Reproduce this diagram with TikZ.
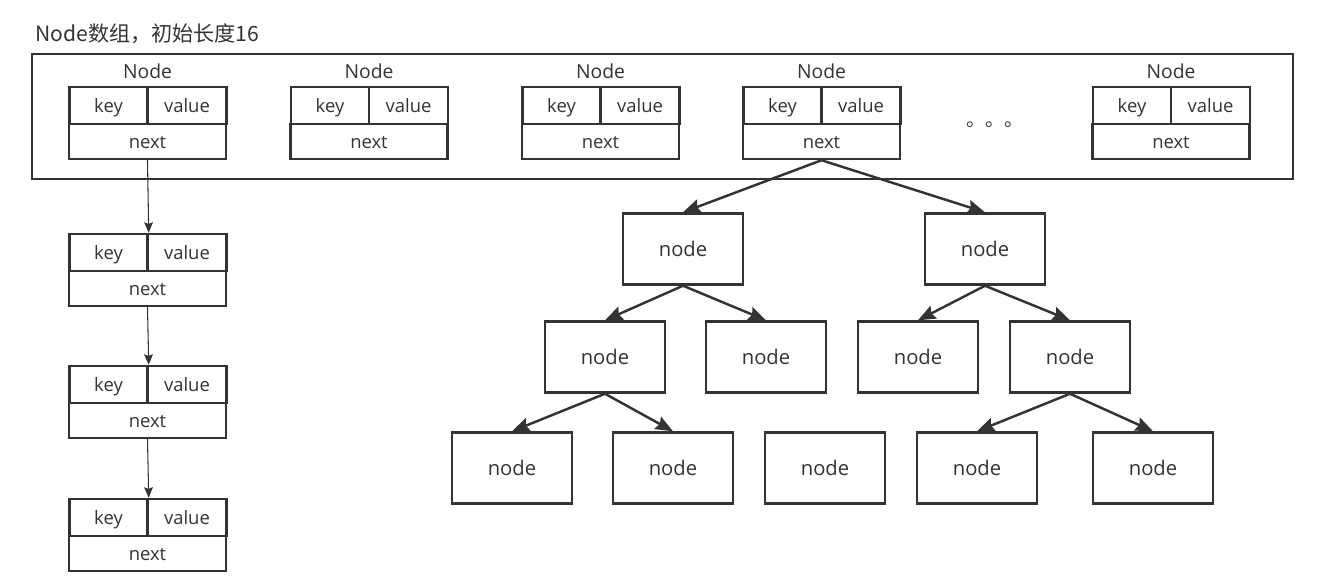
\documentclass[tikz,border=0pt]{standalone}
\usepackage{fontspec}
\setmainfont{Open Sans}
\newfontfamily\cjk{Noto Sans CJK SC}
\usepackage{xcolor}
\usepackage{tikz}
\usetikzlibrary{arrows.meta,positioning}
\definecolor{ink}{HTML}{333333}
\tikzset{%
	cell/.style    = {draw=ink, line width=1.4pt, inner sep=0pt, text=ink, font=\fontsize{10.5}{12}\selectfont, text height=1.6ex, text depth=0.1ex, minimum height=0.74cm},
	kcell/.style   = {cell, minimum width=1.56cm},
	vcell/.style   = {cell, minimum width=1.58cm},
	ncell/.style   = {cell, minimum width=3.14cm, minimum height=0.70cm},
	tnode/.style   = {draw=ink, line width=1.4pt, text=ink, font=\fontsize{11.5}{13}\selectfont, text height=1.6ex, text depth=0.1ex, minimum width=2.4cm, minimum height=1.42cm},
	link/.style    = {draw=ink, line width=0.6pt, -{Stealth[length=6pt,width=5pt,inset=1pt]}},
	tarrow/.style  = {draw=ink, line width=1.4pt, -{Stealth[length=10pt,width=8pt,inset=1.5pt]}},
}
% one array entry: name, centre x, top y
\newcommand{\kvnode}[3]{%
	\node[kcell] (#1k) at (#2-39,#3+18.5) {key};
	\node[vcell] (#1v) at (#2+39.5,#3+18.5) {value};
	\node[ncell] (#1n) at (#2,#3+54.5) {next};
}

\begin{document}
\begin{tikzpicture}[x=0.02cm,y=-0.02cm]
	\useasboundingbox (0,0) rectangle (1326,579);
	\node[anchor=west, text=ink, font=\cjk\fontsize{12}{14}\selectfont, inner sep=0pt] (title) at (35,34) {Node数组，初始长度16};
	\draw[ink, line width=1.5pt] (32,54) rectangle (1293,179);
	
	\foreach \nm/\cx in {e1/147.5,e2/369,e3/600.5,e4/821.5,e5/1171} {
		\kvnode{\nm}{\cx}{87}
		\node[text=ink, font=\fontsize{11}{13}\selectfont] (\nm l) at (\cx,71) {Node};
	}
	\node[text=ink, font=\cjk\fontsize{11}{13}\selectfont, inner sep=0pt] (dots) at (995,125) {。。。};
	
	% chain under the first slot
	\kvnode{c1}{147.5}{234}
	\kvnode{c2}{147.5}{366}
	\kvnode{c3}{147.5}{499}
	\draw[link] (e1n.south) -- (c1k.north east);
	\draw[link] (c1n.south) -- (c2k.north east);
	\draw[link] (c2n.south) -- (c3k.north east);
	
	% tree under the fourth slot
	\foreach \nm/\x/\y in {t1/683/249,t2/985/249,t3/605/357,t4/766/357,t5/918/357,t6/1070/357,t7/512/468,t8/673/468,t9/825/468,t10/977/468,t11/1153/468}
		\node[tnode] (\nm) at (\x,\y) {node};
	\foreach \a/\b in {e4n/t1,e4n/t2,t1/t3,t1/t4,t2/t5,t2/t6,t3/t7,t3/t8,t6/t10,t6/t11}
		\draw[tarrow] (\a.south) -- (\b.north);
\end{tikzpicture}
\end{document}
